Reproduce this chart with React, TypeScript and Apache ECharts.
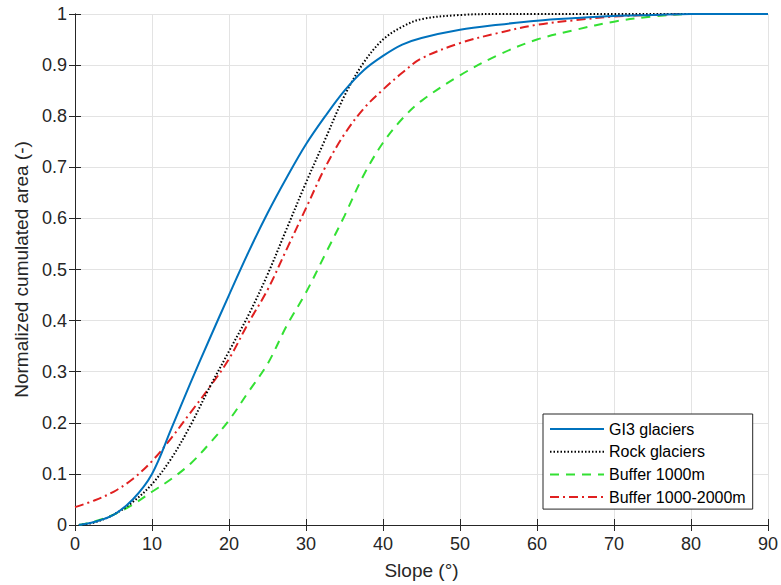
import React, { useEffect, useRef } from "react";
import * as echarts from "echarts";

const slopeGI3 = [0.5, 2.5, 5, 7.5, 10, 12.5, 15, 17.5, 20, 22.5, 25, 27.5, 30, 32.5, 35, 37.5, 40, 42.5, 45, 50, 55, 60, 65, 70, 75, 80, 90];
const areaGI3 = [0, 0.006, 0.02, 0.05, 0.1, 0.188, 0.278, 0.365, 0.45, 0.533, 0.61, 0.68, 0.745, 0.8, 0.85, 0.89, 0.918, 0.94, 0.953, 0.969, 0.979, 0.987, 0.992, 0.996, 0.998, 1, 1];

const slopeRock = [0.5, 2.5, 5, 7.5, 10, 12.5, 15, 17.5, 20, 22.5, 25, 27.5, 30, 32.5, 35, 37.5, 40, 42.5, 45, 50, 55, 60, 70, 80, 90];
const areaRock = [0, 0.005, 0.02, 0.045, 0.08, 0.13, 0.195, 0.27, 0.34, 0.41, 0.49, 0.58, 0.67, 0.755, 0.84, 0.905, 0.95, 0.975, 0.99, 0.998, 1, 1, 1, 1, 1];

const slopeB1000 = [0.5, 2.5, 5, 7.5, 10, 12.5, 15, 17.5, 20, 22.5, 25, 27.5, 30, 32.5, 35, 37.5, 40, 42.5, 45, 50, 55, 60, 65, 70, 75, 80, 90];
const areaB1000 = [0, 0.007, 0.02, 0.04, 0.065, 0.09, 0.12, 0.16, 0.205, 0.26, 0.315, 0.39, 0.455, 0.53, 0.605, 0.685, 0.748, 0.795, 0.83, 0.88, 0.92, 0.95, 0.969, 0.985, 0.995, 1, 1];

const slopeB2000 = [0, 2.5, 5, 7.5, 10, 12.5, 15, 17.5, 20, 22.5, 25, 27.5, 30, 32.5, 35, 37.5, 40, 42.5, 45, 50, 55, 60, 65, 70, 75, 80, 90];
const areaB2000 = [0.035, 0.048, 0.065, 0.09, 0.125, 0.17, 0.22, 0.27, 0.325, 0.395, 0.46, 0.54, 0.62, 0.7, 0.765, 0.815, 0.852, 0.885, 0.913, 0.943, 0.963, 0.979, 0.988, 0.995, 0.998, 1, 1];

const legendNames = ["GI3 glaciers", "Rock glaciers", "Buffer 1000m", "Buffer 1000-2000m"];

const pair = (xs: number[], ys: number[]) => xs.map((x, i) => [x, ys[i]]);

export default function App() {
  const ref = useRef<HTMLDivElement>(null);
  useEffect(() => {
    if (!ref.current) return;
    const chart = echarts.init(ref.current, undefined, { renderer: "svg" });
    const font = "Liberation Sans, Arial, Helvetica, sans-serif";
    const axisColor = "#262626";
    const frameAxis = {
      type: "value",
      axisLine: { show: true, lineStyle: { color: axisColor, width: 1 } },
      axisTick: { show: true, inside: true, length: 6, lineStyle: { color: axisColor } },
      axisLabel: { show: false },
      splitLine: { show: false },
    };
    chart.setOption({
      animation: false,
      backgroundColor: "#ffffff",
      grid: { left: 75, right: 13, top: 14, bottom: 60, containLabel: false },
      legend: {
        orient: "vertical",
        left: 543,
        top: 414,
        backgroundColor: "#ffffff",
        borderColor: "#262626",
        borderWidth: 1,
        borderRadius: 0,
        padding: [7, 7, 4, 6],
        itemGap: 6.7,
        itemWidth: 54,
        itemHeight: 16,
        itemStyle: { opacity: 0 },
        textStyle: { fontFamily: font, fontSize: 16, color: "#000000" },
        data: legendNames,
      },
      xAxis: [
        {
          type: "value",
          min: 0,
          max: 90,
          interval: 10,
          name: "Slope (°)",
          nameLocation: "middle",
          nameGap: 36,
          nameTextStyle: { fontFamily: font, fontSize: 19, color: axisColor },
          axisLine: { show: true, lineStyle: { color: axisColor, width: 1 } },
          axisTick: { show: true, inside: true, length: 6, lineStyle: { color: axisColor } },
          axisLabel: { fontFamily: font, fontSize: 18, color: axisColor, margin: 10 },
          splitLine: { show: true, lineStyle: { color: "#e3e3e3", width: 1 } },
        },
        { ...frameAxis, position: "top", min: 0, max: 90, interval: 10 },
      ],
      yAxis: [
        {
          type: "value",
          min: 0,
          max: 1,
          interval: 0.1,
          name: "Normalized cumulated area (-)",
          nameLocation: "middle",
          nameGap: 42,
          nameRotate: 90,
          nameTextStyle: { fontFamily: font, fontSize: 19, color: axisColor },
          axisLine: { show: true, lineStyle: { color: axisColor, width: 1 } },
          axisTick: { show: true, inside: true, length: 6, lineStyle: { color: axisColor } },
          axisLabel: { fontFamily: font, fontSize: 18, color: axisColor, margin: 8 },
          splitLine: { show: true, lineStyle: { color: "#e3e3e3", width: 1 } },
        },
        { ...frameAxis, position: "right", min: 0, max: 1, interval: 0.1 },
      ],
      series: [
        {
          name: legendNames[0],
          type: "line",
          data: pair(slopeGI3, areaGI3),
          smooth: 0.35,
          showSymbol: false,
          symbol: "none",
          lineStyle: { color: "#0072BD", width: 2, type: "solid" },
          itemStyle: { color: "#0072BD" },
          z: 4,
        },
        {
          name: legendNames[1],
          type: "line",
          data: pair(slopeRock, areaRock),
          smooth: 0.35,
          showSymbol: false,
          symbol: "none",
          lineStyle: { color: "#000000", width: 2, type: [1.5, 2] },
          itemStyle: { color: "#000000" },
          z: 3,
        },
        {
          name: legendNames[2],
          type: "line",
          data: pair(slopeB1000, areaB1000),
          smooth: 0.35,
          showSymbol: false,
          symbol: "none",
          lineStyle: { color: "#33e033", width: 2, type: [9, 7] },
          itemStyle: { color: "#33e033" },
          z: 2,
        },
        {
          name: legendNames[3],
          type: "line",
          data: pair(slopeB2000, areaB2000),
          smooth: 0.35,
          showSymbol: false,
          symbol: "none",
          lineStyle: { color: "#e02020", width: 2, type: [9, 4, 2, 4] },
          itemStyle: { color: "#e02020" },
          z: 2,
        },
      ],
    });
    return () => chart.dispose();
  }, []);
  return <div ref={ref} style={{ width: 781, height: 585, position: "absolute", left: 0, top: 0 }} />;
}
